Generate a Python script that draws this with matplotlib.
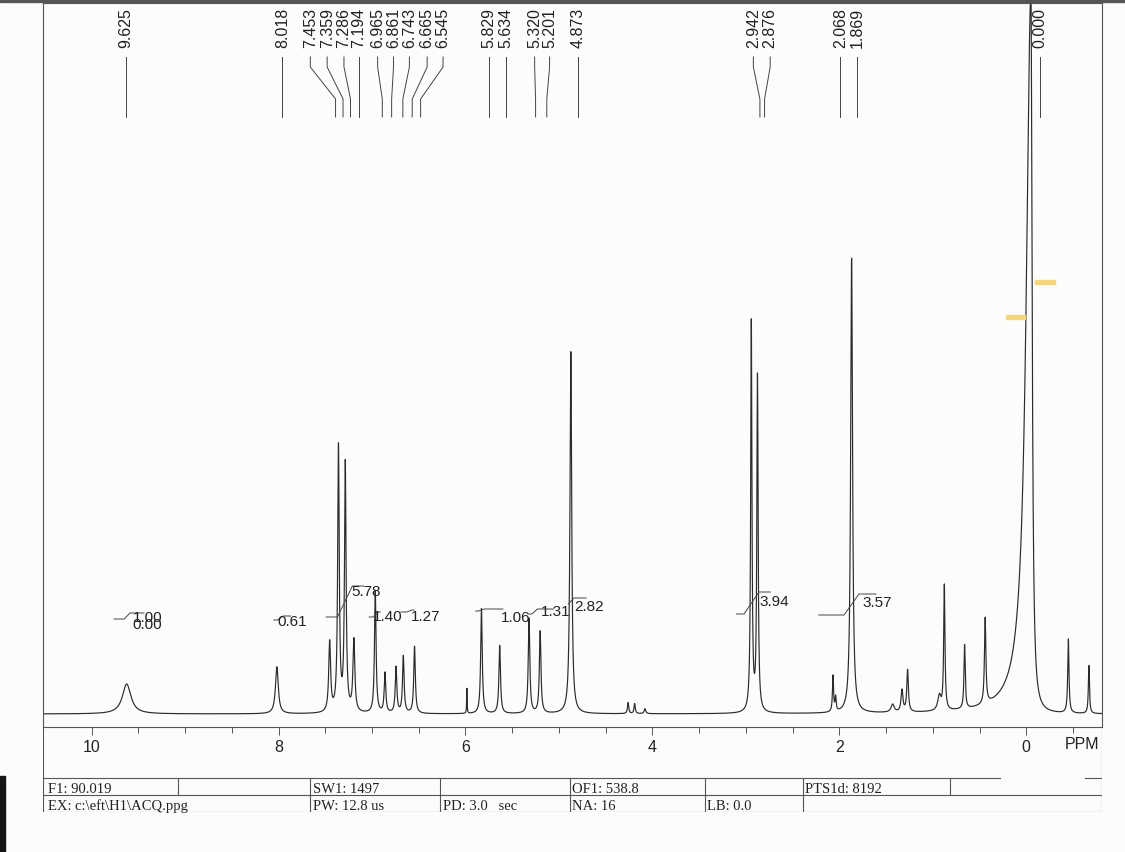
import numpy as np
import matplotlib.pyplot as plt
from matplotlib.patches import Rectangle

# ---- spectrum: peak list (ppm, height above baseline, half widths)
peak_ppm = [9.625, 8.018, 7.453, 7.359, 7.286, 7.194, 6.965, 6.861, 6.743, 6.665,
            6.545, 5.985, 5.829, 5.634, 5.320, 5.201, 4.873, 4.26, 4.19, 4.08,
            2.942, 2.876, 2.068, 2.04, 1.869, 1.43, 1.33, 1.27, 0.93, 0.877,
            0.66, 0.44, -0.05, -0.45, -0.67]
peak_height = [30, 47, 70, 265, 248, 72, 122, 40, 46, 57,
               67, 25, 105, 68, 95, 82, 362, 11, 10, 5,
               390, 335, 36, 14, 455, 8, 22, 42, 15, 125,
               64, 86, 720, 74, 48]
peak_hw_left = [0.055, 0.018, 0.012, 0.010, 0.010, 0.012, 0.010, 0.010, 0.010, 0.010,
                0.010, 0.003, 0.010, 0.010, 0.010, 0.010, 0.011, 0.008, 0.008, 0.010,
                0.008, 0.008, 0.007, 0.007, 0.012, 0.020, 0.012, 0.010, 0.020, 0.008,
                0.008, 0.009, 0.060, 0.008, 0.007]
peak_hw_right = [0.055, 0.018, 0.012, 0.010, 0.010, 0.012, 0.010, 0.010, 0.010, 0.010,
                 0.010, 0.003, 0.010, 0.010, 0.010, 0.010, 0.011, 0.008, 0.008, 0.010,
                 0.008, 0.008, 0.007, 0.007, 0.012, 0.020, 0.012, 0.010, 0.020, 0.008,
                 0.008, 0.009, 0.015, 0.008, 0.007]

# ---- peak pick labels at the top
label_values = ['9.625', '8.018', '7.453', '7.359', '7.286', '7.194', '6.965', '6.861',
                '6.743', '6.665', '6.545', '5.829', '5.634', '5.320', '5.201', '4.873',
                '2.942', '2.876', '2.068', '1.869', '0.000']
label_ppm = [9.63, 7.96, 7.66, 7.48, 7.30, 7.14, 6.94, 6.77, 6.60, 6.41, 6.24,
             5.75, 5.57, 5.26, 5.10, 4.80, 2.92, 2.74, 1.99, 1.81, -0.15]
leader_ppm = [9.63, 7.96, 7.39, 7.31, 7.23, 7.14, 6.89, 6.79, 6.67, 6.57, 6.48,
              5.75, 5.57, 5.25, 5.13, 4.80, 2.85, 2.80, 1.99, 1.81, -0.15]

# ---- integral traces
int_start = [9.76, 8.05, 7.49, 7.03, 6.69, 5.89, 5.33, 4.90, 3.10, 2.22]
int_end = [9.44, 7.87, 7.09, 6.91, 6.55, 5.60, 5.06, 4.71, 2.74, 1.61]
int_step = [9.62, 7.98, 7.29, 6.96, 6.60, 5.83, 5.26, 4.87, 2.94, 1.87]
int_low = [95, 94, 97, 97, 102, 103, 100, 110, 100, 99]
int_high = [101, 98, 128, 102, 104, 105, 105, 116, 122, 120]

int_text = ['1.00', '0.00', '0.61', '5.78', '1.40', '1.27', '1.06', '1.31', '2.82', '3.94', '3.57']
int_text_ppm = [9.40, 9.40, 7.85, 7.06, 6.83, 6.43, 5.46, 5.03, 4.68, 2.70, 1.59]
int_text_h = [97, 90, 93, 123, 98, 98, 97, 103, 108, 113, 112]

# ---- parameter table under the axis
footer_text = ['F1: 90.019', 'EX: c:\\eft\\H1\\ACQ.ppg', 'SW1: 1497', 'PW: 12.8 us',
               'PD: 3.0   sec', 'OF1: 538.8', 'NA: 16', 'LB: 0.0', 'PTS1d: 8192']
footer_x = [48, 48, 313, 313, 443, 572, 572, 707, 805]
footer_row = [0, 1, 0, 1, 1, 0, 1, 1, 0]

W, H = 1125, 853
ink = '#2b2b2b'
plt.rcParams['font.family'] = ['Liberation Sans', 'DejaVu Sans']

fig = plt.figure(figsize=(W / 100, H / 100), dpi=100, facecolor='#fcfcfb')


def fx(px):
    return px / W


def fy(py):
    return 1 - py / H


ax = fig.add_axes([fx(43), fy(728), fx(1102) - fx(43), fy(4) - fy(728)])
ax.set_facecolor('none')

ppm = np.linspace(10.52, -0.81, 16000)
spec = np.zeros_like(ppm)
for c, h, wl, wr in zip(peak_ppm, peak_height, peak_hw_left, peak_hw_right):
    w = np.where(ppm >= c, wl, wr)
    spec += h * w ** 2 / ((ppm - c) ** 2 + w ** 2)
ax.plot(ppm, spec, color=ink, lw=0.85)

ax.set_xlim(10.52, -0.81)
ax.set_ylim(-13, 711)

# peak labels + leader lines
for txt, lp, bp in zip(label_values, label_ppm, leader_ppm):
    ax.text(lp, 687, txt, rotation=90, ha='center', va='center', fontsize=11.5, color='#222')
    ax.plot([lp, lp, bp, bp], [657, 647, 615, 597], color='#444', lw=0.7)

# integrals
for s, e, st, lo, hi in zip(int_start, int_end, int_step, int_low, int_high):
    rw = 0.08 if hi - lo > 20 else 0.03
    ax.plot([s, st + rw, st - rw, e], [lo, lo, hi, hi], color='#444', lw=0.7)
for txt, p, h in zip(int_text, int_text_ppm, int_text_h):
    ax.text(p, h, txt, ha='center', va='center', fontsize=11, color='#222')

# axis frame and ticks
for sp in ax.spines.values():
    sp.set_color('#555')
    sp.set_linewidth(0.8)
ax.set_yticks([])
ax.set_xticks([10, 8, 6, 4, 2, 0])
ax.set_xticklabels(['10', '8', '6', '4', '2', '0'], fontsize=11.5, color='#222')
ax.set_xticks(np.arange(-0.5, 10.5, 0.5), minor=True)
ax.tick_params(axis='x', which='major', length=6, width=0.7, color='#555', pad=3)
ax.tick_params(axis='x', which='minor', length=4, width=0.7, color='#555')
ax.text(-0.6, -30, 'PPM', ha='center', va='center', fontsize=11.5, color='#222')

# footer table
ft = fig.add_axes([fx(43), fy(813), fx(1102) - fx(43), fy(728) - fy(813)])
ft.set_xlim(43, 1102)
ft.set_ylim(813, 728)
ft.axis('off')
ft.set_facecolor('none')
lc = '#555'
ft.plot([43, 43], [728, 813], color=lc, lw=0.8)
ft.plot([1102, 1102], [728, 813], color=lc, lw=0.8)
ft.plot([43, 1000], [779, 779], color=lc, lw=0.8)
ft.plot([1085, 1102], [779, 779], color=lc, lw=0.8)
ft.plot([43, 1102], [796, 796], color=lc, lw=0.8)
ft.plot([43, 1102], [813, 813], color=lc, lw=0.8)
for xc in [178, 950]:
    ft.plot([xc, xc], [779, 796], color=lc, lw=0.8)
for xc in [310, 440, 570, 705, 803]:
    ft.plot([xc, xc], [779, 813], color=lc, lw=0.8)
for txt, x0, r in zip(footer_text, footer_x, footer_row):
    ft.text(x0, 793 + 17 * r, txt, ha='left', va='baseline', fontsize=10.5,
            family='Liberation Serif', color='#222')

# scan artefacts: top edge shadow, dark strip, highlighter marks
fig.patches.append(Rectangle((0, fy(3)), 1, fy(0) - fy(3), transform=fig.transFigure,
                             color='#555', zorder=5))
fig.patches.append(Rectangle((0, fy(853)), fx(5), fy(777) - fy(853), transform=fig.transFigure,
                             color='#151515', zorder=5))
fig.patches.append(Rectangle((fx(1035), fy(285)), fx(20), fy(281) - fy(285), transform=fig.transFigure,
                             color='#f3d67e', zorder=5))
fig.patches.append(Rectangle((fx(1006), fy(320)), fx(19), fy(316) - fy(320), transform=fig.transFigure,
                             color='#f3d67e', zorder=5))

fig.savefig('out.png', dpi=100, facecolor=fig.get_facecolor())
